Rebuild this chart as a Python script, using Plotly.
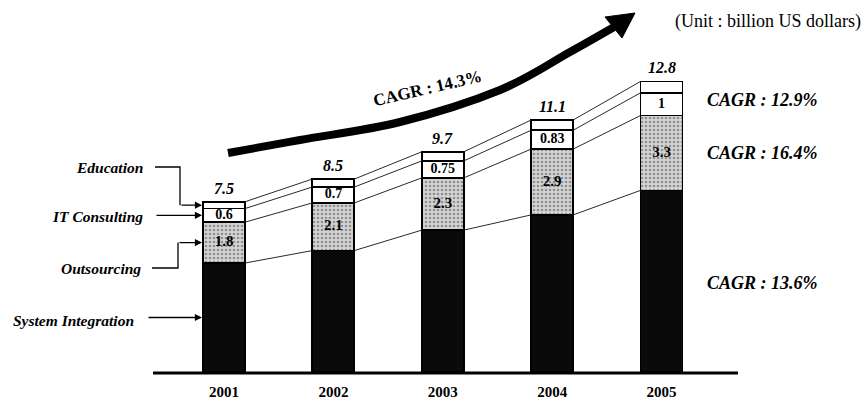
import plotly.graph_objects as go

# ---- data (billion US dollars) ----
years = ["2001", "2002", "2003", "2004", "2005"]
system_integration = [4.8, 5.35, 6.25, 6.92, 8.0]
outsourcing = [1.8, 2.1, 2.3, 2.9, 3.3]
it_consulting = [0.6, 0.7, 0.75, 0.83, 1.0]
education = [0.3, 0.35, 0.4, 0.45, 0.5]
totals = [7.5, 8.5, 9.7, 11.1, 12.8]

segment_names = ["System Integration", "Outsourcing", "IT Consulting", "Education"]
cagr_total = "CAGR : 14.3%"
cagr_segments = ["CAGR : 12.9%", "CAGR : 16.4%", "CAGR : 13.6%"]
unit_text = "(Unit : billion US dollars)"

# ---- geometry ----
W, H = 864, 401
PLOT_H = 372            # plot area height (baseline sits at its bottom)
X0_PX, DX_PX = 224, 109.375
PPU = 22.7              # pixels per billion
BAR_W = 0.384
XMIN = -X0_PX / DX_PX
XMAX = (W - X0_PX) / DX_PX
YMAX = PLOT_H / PPU
FONT = "Liberation Serif"


def px_x(px):
    return px / W


def px_y(py):
    return (PLOT_H - py) / PLOT_H


def dy_paper(y):
    return y / YMAX


def bi(size):
    return dict(family=FONT, size=size, color="black", weight="bold", style="italic")


xs = list(range(len(years)))

# cumulative boundaries of the stacked segments
b1 = system_integration
b2 = [a + b for a, b in zip(b1, outsourcing)]
b3 = [a + b for a, b in zip(b2, it_consulting)]
b4 = [a + b for a, b in zip(b3, education)]

fig = go.Figure()

bar_line = dict(color="black", width=1.8)
fig.add_trace(go.Bar(x=xs, y=system_integration, width=BAR_W, name=segment_names[0],
                     marker=dict(color="#0a0a0a", line=bar_line)))
fig.add_trace(go.Bar(x=xs, y=outsourcing, width=BAR_W, name=segment_names[1],
                     marker=dict(color="#cfcfcf", line=bar_line,
                                 pattern=dict(shape=".", fgcolor="#4a4a4a", bgcolor="#d4d4d4",
                                              size=4, solidity=0.35))))
fig.add_trace(go.Bar(x=xs, y=it_consulting, width=BAR_W, name=segment_names[2],
                     marker=dict(color="white", line=bar_line)))
fig.add_trace(go.Bar(x=xs, y=education, width=BAR_W, name=segment_names[3],
                     marker=dict(color="white", line=bar_line)))

# thin connector lines linking each boundary from bar to bar
for level in (b1, b2, b3, b4):
    lx, ly = [], []
    for i in range(len(xs) - 1):
        lx += [xs[i] + BAR_W / 2, xs[i + 1] - BAR_W / 2, None]
        ly += [level[i], level[i + 1], None]
    fig.add_trace(go.Scatter(x=lx, y=ly, mode="lines", line=dict(color="#111", width=0.9),
                             hoverinfo="skip", showlegend=False))

# value labels inside the consulting and outsourcing segments
fig.add_trace(go.Scatter(x=xs, y=[b2[i] + it_consulting[i] / 2 for i in xs], mode="text",
                         text=[f"{v:g}" for v in it_consulting],
                         textfont=dict(family=FONT, size=14, color="black", weight="bold"),
                         hoverinfo="skip", showlegend=False))
fig.add_trace(go.Scatter(x=xs, y=[b1[i] + outsourcing[i] / 2 for i in xs], mode="text",
                         text=[f"{v:g}" for v in outsourcing],
                         textfont=dict(family=FONT, size=15, color="black", weight="bold"),
                         hoverinfo="skip", showlegend=False))

annotations = []
# totals above the bars
for i, t in enumerate(totals):
    annotations.append(dict(x=xs[i], y=b4[i], xref="x", yref="y", text=f"{t:g}",
                            showarrow=False, yanchor="bottom", yshift=3, font=bi(16)))

# segment names on the left, with leader arrows into the 2001 bar
left_edge = xs[0] - BAR_W / 2
targets = [b1[0] / 2, (b1[0] + b2[0]) / 2, (b2[0] + b3[0]) / 2, (b3[0] + b4[0]) / 2]
label_pos = {  # right edge px, centre py, leader start px, elbow px
    "Education": (145, 167, 155, 180),
    "IT Consulting": (145, 217, 155, None),
    "Outsourcing": (143, 268, 152, 178),
    "System Integration": (136, 320, 147, None),
}
shapes = []
bar_left_px = X0_PX - BAR_W / 2 * DX_PX
for k, name in enumerate(segment_names):
    rx, cy, sx, ex = label_pos[name]
    annotations.append(dict(x=px_x(rx), y=px_y(cy), xref="paper", yref="paper",
                            text=name, showarrow=False,
                            xanchor="right", yanchor="middle", font=bi(15.5)))
    ty = targets[k]
    if ex is not None:
        shapes.append(dict(type="path", xref="paper", yref="paper",
                           path=f"M {px_x(sx)},{px_y(cy)} L {px_x(ex)},{px_y(cy)} "
                                f"L {px_x(ex)},{dy_paper(ty)}",
                           line=dict(color="black", width=1.3)))
        start_px = ex
    else:
        start_px = sx
    annotations.append(dict(x=left_edge, y=ty, xref="x", yref="y", text="",
                            showarrow=True, ax=start_px - bar_left_px, ay=0,
                            arrowhead=2, arrowsize=1.1, arrowwidth=1.3,
                            arrowcolor="black", standoff=1))

# CAGR notes on the right
for text, cy in zip(cagr_segments, (100, 153, 283)):
    annotations.append(dict(x=px_x(705), y=px_y(cy), xref="paper", yref="paper",
                            text=text, showarrow=False,
                            xanchor="left", yanchor="middle", font=bi(18)))

# unit note
annotations.append(dict(x=px_x(863), y=px_y(22), xref="paper", yref="paper", text=unit_text,
                        showarrow=False, xanchor="right", yanchor="middle",
                        font=dict(family=FONT, size=18, color="black")))

# overall growth arrow and its label
annotations.append(dict(x=px_x(427), y=px_y(88), xref="paper", yref="paper",
                        text=cagr_total, showarrow=False, textangle=-13,
                        xanchor="center", yanchor="middle",
                        font=dict(family=FONT, size=17, color="black", weight="bold")))

curve_pts = [(228, 153), (300, 140), (400, 122), (500, 90), (570, 52), (614, 27)]


def smooth_path(pts):
    d = f"M {px_x(pts[0][0])},{px_y(pts[0][1])}"
    n = len(pts)
    for i in range(n - 1):
        p0 = pts[i - 1] if i > 0 else pts[i]
        p1, p2 = pts[i], pts[i + 1]
        p3 = pts[i + 2] if i + 2 < n else p2
        c1 = (p1[0] + (p2[0] - p0[0]) / 6, p1[1] + (p2[1] - p0[1]) / 6)
        c2 = (p2[0] - (p3[0] - p1[0]) / 6, p2[1] - (p3[1] - p1[1]) / 6)
        d += (f" C {px_x(c1[0])},{px_y(c1[1])} {px_x(c2[0])},{px_y(c2[1])} "
              f"{px_x(p2[0])},{px_y(p2[1])}")
    return d


shapes.append(dict(type="path", xref="paper", yref="paper", path=smooth_path(curve_pts),
                   line=dict(color="black", width=8), layer="below"))
head = [(635, 13), (605, 17), (622, 38)]
shapes.append(dict(type="path", xref="paper", yref="paper",
                   path="M " + " L ".join(f"{px_x(a)},{px_y(b)}" for a, b in head) + " Z",
                   fillcolor="black", line=dict(color="black", width=1)))

# baseline
shapes.append(dict(type="line", xref="paper", yref="paper",
                   x0=px_x(153), x1=px_x(738), y0=-0.003, y1=-0.003,
                   line=dict(color="black", width=3)))

fig.update_layout(
    width=W, height=H,
    margin=dict(l=0, r=0, t=0, b=H - PLOT_H),
    barmode="stack",
    showlegend=False,
    plot_bgcolor="rgba(0,0,0,0)", paper_bgcolor="white",
    font=dict(family=FONT, color="black"),
    annotations=annotations,
    shapes=shapes,
    xaxis=dict(range=[XMIN, XMAX], tickvals=xs, ticktext=years, showgrid=False,
               zeroline=False, showline=False, ticks="", ticklabelstandoff=9,
               tickfont=dict(family=FONT, size=15, color="black", weight="bold")),
    yaxis=dict(range=[0, YMAX], visible=False),
)

fig.write_html("out.html")
